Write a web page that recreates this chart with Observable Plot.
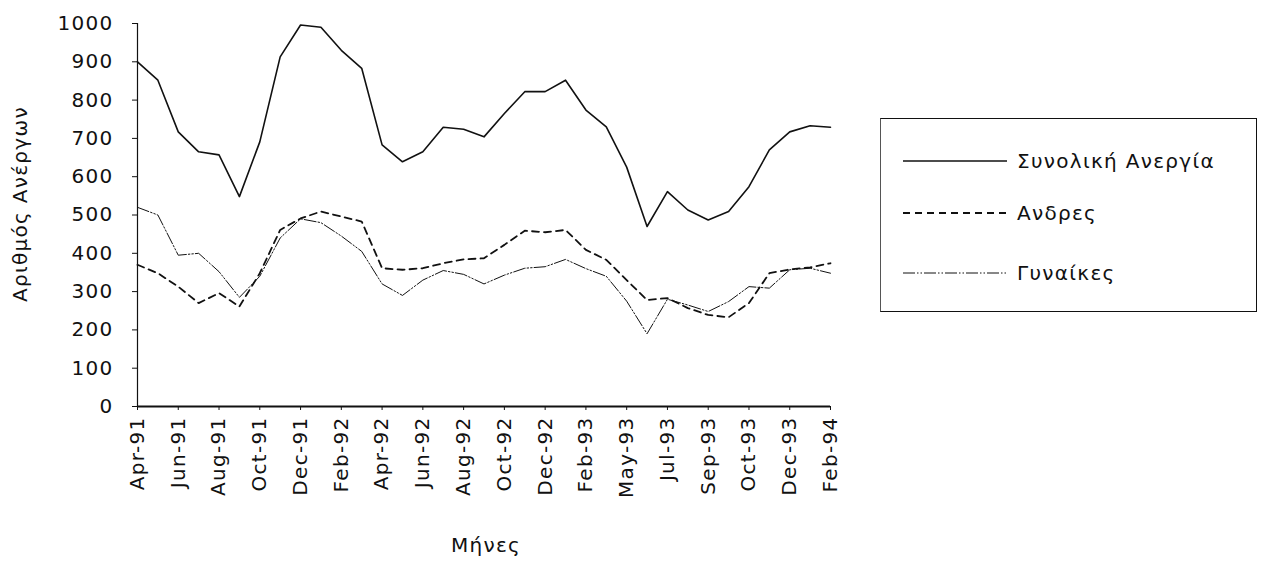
<!DOCTYPE html>
<html><head><meta charset="utf-8">
<script src="https://cdn.jsdelivr.net/npm/d3@7"></script>
<script src="https://cdn.jsdelivr.net/npm/@observablehq/plot@0.6"></script>
<style>
body{margin:0;background:#fff;}
#wrap{position:relative;width:1261px;height:562px;font-family:"DejaVu Sans",sans-serif;color:#111;}
#chart{position:absolute;left:0;top:0;}
#legend{position:absolute;left:880px;top:118px;width:377px;height:194px;box-sizing:border-box;border:1.5px solid #111;border-left:1px solid #555;}
.row{position:absolute;left:22px;height:24px;display:flex;align-items:center;font-size:20px;letter-spacing:1.3px;}
.row svg{margin-right:10px;}
</style></head><body>
<div id="wrap"><div id="chart"></div><div id="legend"></div></div>
<script>
const categories = ["Apr-91","May-91","Jun-91","Jul-91","Aug-91","Sep-91","Oct-91","Nov-91","Dec-91","Jan-92","Feb-92","Mar-92","Apr-92","May-92","Jun-92","Jul-92","Aug-92","Sep-92","Oct-92","Nov-92","Dec-92","Jan-93","Feb-93","Apr-93","May-93","Jun-93","Jul-93","Aug-93","Sep-93","Sep-93","Oct-93","Nov-93","Dec-93","Jan-94","Feb-94"];
const tickIndex = [0,2,4,6,8,10,12,14,16,18,20,22,24,26,28,30,32,34];
const tickLabels = ["Apr-91","Jun-91","Aug-91","Oct-91","Dec-91","Feb-92","Apr-92","Jun-92","Aug-92","Oct-92","Dec-92","Feb-93","May-93","Jul-93","Sep-93","Oct-93","Dec-93","Feb-94"];
const total = [900,852,717,665,657,548,691,913,996,990,930,883,683,639,665,729,724,704,765,822,822,852,774,730,625,470,561,513,487,509,574,670,717,733,729];
const men   = [370,348,313,270,296,261,348,461,491,509,496,483,361,357,361,374,384,387,422,459,455,461,409,383,330,278,283,257,239,233,270,348,358,363,374];
const women = [520,500,395,400,352,285,340,440,490,480,445,405,320,290,330,355,345,320,343,361,365,384,360,340,275,190,280,265,248,274,313,309,357,361,348];
const seriesNames = ["Συνολική Ανεργία","Ανδρες","Γυναίκες"];
const yTicks = [0,100,200,300,400,500,600,700,800,900,1000];
const axisTitles = {x:"Μήνες", y:"Αριθμός Ανέργων"};

const styles = {
  [seriesNames[0]]: {strokeWidth:1.6, dash:null},
  [seriesNames[1]]: {strokeWidth:1.8, dash:"7,5"},
  [seriesNames[2]]: {strokeWidth:1, dash:"12,2,1.5,2,1.5,2"}
};
const values = [total, men, women];
const rows = [];
seriesNames.forEach((s,k)=>values[k].forEach((v,i)=>rows.push({i, m:categories[i], s, v})));

const lineMark = s => Plot.lineY(rows.filter(d=>d.s===s), {x:"i", y:"v", stroke:"#111", strokeWidth:styles[s].strokeWidth, strokeDasharray:styles[s].dash || undefined});

const chart = Plot.plot({
  width: 860, height: 562,
  marginLeft: 137, marginRight: 30, marginTop: 23, marginBottom: 156,
  style: {fontSize:"20px", fontFamily:"'DejaVu Sans',sans-serif", color:"#111", background:"transparent", letterSpacing:"1.3px"},
  x: {type:"linear", domain:[0,34], ticks: tickIndex, tickFormat: i => tickLabels[tickIndex.indexOf(i)], tickRotate:-90, tickSize:4, tickPadding:6, label:null},
  y: {domain:[0,1000], ticks: yTicks, tickFormat: d => String(d), tickSize:5, tickPadding:19, label:null},
  marks: [
    Plot.ruleX([0], {stroke:"#111", strokeWidth:1.2}),
    Plot.ruleY([0], {stroke:"#111", strokeWidth:2.2}),
    lineMark(seriesNames[2]),
    lineMark(seriesNames[1]),
    lineMark(seriesNames[0]),
    Plot.text([axisTitles.y], {text:d=>d, frameAnchor:"left", textAnchor:"middle", lineAnchor:"middle", rotate:-90, dx:-117, dy:-11, fontSize:20, fill:"#111"}),
    Plot.text([axisTitles.x], {text:d=>d, frameAnchor:"bottom", textAnchor:"middle", dy:145, dx:2, fontSize:20, fill:"#111"})
  ]
});
document.getElementById("chart").appendChild(chart);

const legend = document.getElementById("legend");
const rowTops = [30, 82, 142];
seriesNames.forEach((s,k)=>{
  const div = document.createElement("div");
  div.className = "row";
  div.style.top = rowTops[k] + "px";
  const st = styles[s];
  div.innerHTML = `<svg width="104" height="10"><line x1="0" x2="104" y1="5" y2="5" stroke="#111" stroke-width="${st.strokeWidth}" ${st.dash?`stroke-dasharray="${st.dash}"`:""}/></svg><span>${s}</span>`;
  legend.appendChild(div);
});
</script>
</body></html>
